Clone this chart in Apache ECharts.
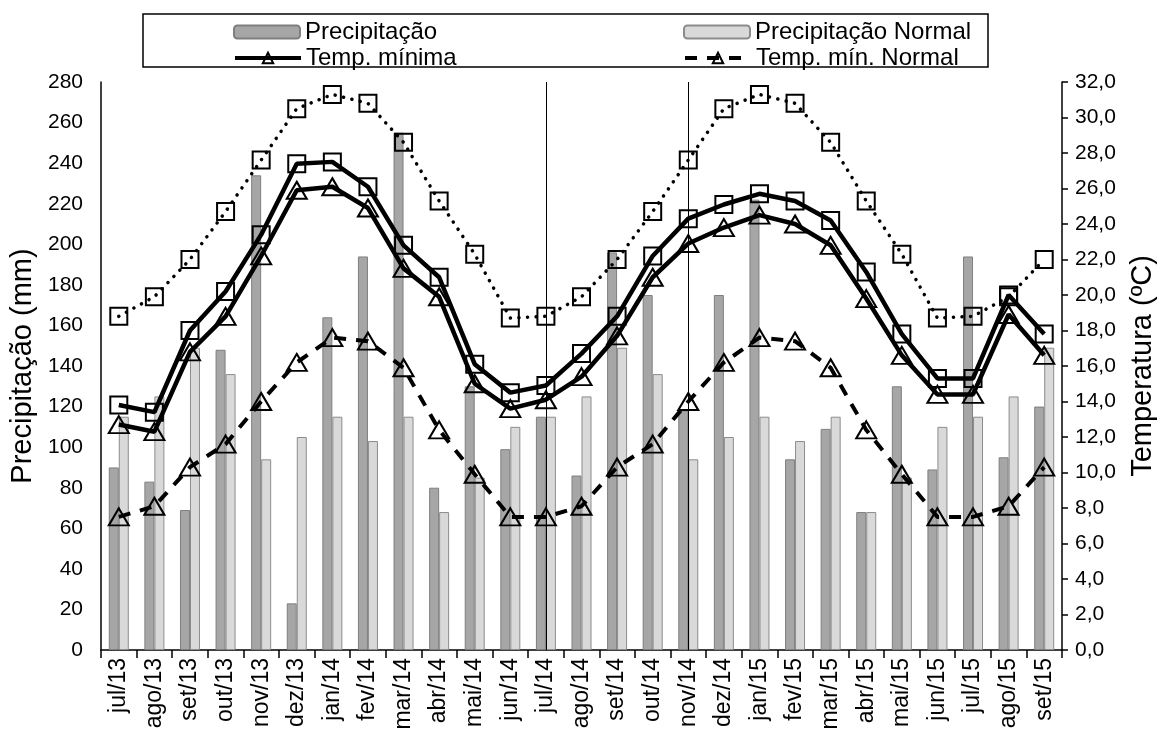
<!DOCTYPE html>
<html>
<head>
<meta charset="utf-8">
<script src="https://cdn.jsdelivr.net/npm/echarts@6/dist/echarts.min.js"></script>
<style>
html,body{margin:0;padding:0;background:#fff;}
#chart{width:1160px;height:731px;}
</style>
</head>
<body>
<div id="chart"></div>
<script>
const categories = ['jul/13','ago/13','set/13','out/13','nov/13','dez/13','jan/14','fev/14','mar/14','abr/14','mai/14','jun/14','jul/14','ago/14','set/14','out/14','nov/14','dez/14','jan/15','fev/15','mar/15','abr/15','mai/15','jun/15','jul/15','ago/15','set/15'];
const precipitacao = [90, 83, 69, 148, 234, 23, 164, 194, 255, 80, 130, 99, 115, 86, 196, 175, 118, 175, 222, 94, 109, 68, 130, 89, 194, 95, 120];
const precipitacaoNormal = [115, 125, 149, 136, 94, 105, 115, 103, 115, 68, 85, 110, 115, 125, 149, 136, 94, 105, 115, 103, 115, 68, 85, 110, 115, 125, 149];
const tempMaxima = [13.8, 13.4, 18.0, 20.2, 23.4, 27.4, 27.5, 26.1, 22.8, 21.0, 16.1, 14.5, 14.9, 16.7, 18.8, 22.2, 24.3, 25.1, 25.7, 25.3, 24.2, 21.3, 17.8, 15.3, 15.3, 20.0, 17.8];
const tempMinima = [12.7, 12.3, 16.8, 18.8, 22.2, 25.9, 26.1, 24.9, 21.5, 19.9, 15.0, 13.6, 14.1, 15.4, 17.7, 21.0, 22.9, 23.8, 24.5, 24.0, 22.8, 19.8, 16.6, 14.4, 14.4, 18.9, 16.6];
const tempMaxNormal = [18.8, 19.9, 22.0, 24.7, 27.6, 30.5, 31.3, 30.8, 28.6, 25.3, 22.3, 18.7, 18.8, 19.9, 22.0, 24.7, 27.6, 30.5, 31.3, 30.8, 28.6, 25.3, 22.3, 18.7, 18.8, 19.9, 22.0];
const tempMinNormal = [7.5, 8.1, 10.3, 11.6, 14.0, 16.2, 17.6, 17.4, 15.9, 12.4, 9.9, 7.5, 7.5, 8.1, 10.3, 11.6, 14.0, 16.2, 17.6, 17.4, 15.9, 12.4, 9.9, 7.5, 7.5, 8.1, 10.3];
const dividers = ['jul/14', 'nov/14'];

const FONT = 'Arial, "Liberation Sans", sans-serif';

const chart = echarts.init(document.getElementById('chart'), null, {renderer: 'canvas'});

const legendBase = {
  orient: 'horizontal',
  itemWidth: 66,
  itemHeight: 13,
  itemGap: 5,
  textStyle: {fontFamily: FONT, fontSize: 24, color: '#000'},
  lineStyle: {width: 4},
  selectedMode: false
};

const markerStyle = {color: 'rgba(0,0,0,0)', borderColor: '#000', borderWidth: 2};

chart.setOption({
  animation: false,
  backgroundColor: '#fff',
  grid: {left: 101, right: 98, top: 82, bottom: 81, containLabel: false, outerBoundsMode: 'none'},
  graphic: [{
    type: 'rect',
    shape: {x: 143, y: 14, width: 845, height: 53},
    style: {fill: 'none', stroke: '#000', lineWidth: 1.5},
    z: 100
  }],
  legend: [
    Object.assign({}, legendBase, {data: ['Precipitação'], left: 228, top: 15}),
    Object.assign({}, legendBase, {data: ['Precipitação Normal'], left: 678, top: 15}),
    Object.assign({}, legendBase, {data: ['Temp. mínima'], left: 228, top: 41}),
    Object.assign({}, legendBase, {data: ['Temp. mín. Normal'], left: 678, top: 41})
  ],
  xAxis: {
    type: 'category',
    data: categories,
    boundaryGap: true,
    axisLine: {lineStyle: {color: '#000', width: 1.5}},
    axisTick: {show: true, length: 8, lineStyle: {color: '#000', width: 1.5}},
    axisLabel: {rotate: 90, interval: 0, margin: 8, fontFamily: FONT, fontSize: 23, color: '#000'},
    splitLine: {show: false}
  },
  yAxis: [{
    type: 'value',
    min: 0, max: 280, interval: 20,
    name: 'Precipitação (mm)',
    nameLocation: 'middle',
    nameGap: 62,
    nameRotate: 90,
    nameTextStyle: {fontFamily: FONT, fontSize: 29, color: '#000'},
    axisLine: {show: true, lineStyle: {color: '#000', width: 1.5}},
    axisTick: {show: false},
    axisLabel: {fontFamily: FONT, fontSize: 21, color: '#000', margin: 18},
    splitLine: {show: false}
  }, {
    type: 'value',
    min: 0, max: 32, interval: 2,
    position: 'right',
    name: 'Temperatura (ºC)',
    nameLocation: 'middle',
    nameGap: 66,
    nameRotate: 90,
    nameTextStyle: {fontFamily: FONT, fontSize: 29, color: '#000'},
    axisLine: {show: true, lineStyle: {color: '#000', width: 1.5}},
    axisTick: {show: true, length: 6, inside: false, lineStyle: {color: '#000', width: 1.5}},
    axisLabel: {fontFamily: FONT, fontSize: 21, color: '#000', margin: 13,
      formatter: v => v.toFixed(1).replace('.', ',')},
    splitLine: {show: false}
  }],
  series: [{
    name: 'Precipitação',
    type: 'bar',
    yAxisIndex: 0,
    data: precipitacao,
    barWidth: 10,
    barGap: '0%',
    itemStyle: {color: '#a6a6a6', borderColor: '#7f7f7f', borderWidth: 1},
    z: 2
  }, {
    name: 'Precipitação Normal',
    type: 'bar',
    yAxisIndex: 0,
    data: precipitacaoNormal,
    barWidth: 10,
    itemStyle: {color: '#d9d9d9', borderColor: '#8c8c8c', borderWidth: 1},
    z: 2
  }, {
    name: 'Temp. máx. Normal',
    type: 'line',
    yAxisIndex: 1,
    data: tempMaxNormal,
    symbol: 'rect',
    symbolSize: 17,
    itemStyle: markerStyle,
    lineStyle: {color: '#000', width: 3.5, type: [0.1, 8.5], cap: 'round'},
    markLine: {
      silent: true,
      symbol: 'none',
      label: {show: false},
      lineStyle: {color: '#000', width: 1, type: 'solid'},
      data: dividers.map(d => ({xAxis: d}))
    },
    z: 5
  }, {
    name: 'Temp. máxima',
    type: 'line',
    yAxisIndex: 1,
    data: tempMaxima,
    symbol: 'rect',
    symbolSize: 17,
    itemStyle: markerStyle,
    lineStyle: {color: '#000', width: 4.5},
    z: 5
  }, {
    name: 'Temp. mínima',
    type: 'line',
    yAxisIndex: 1,
    data: tempMinima,
    symbol: 'triangle',
    symbolSize: [20, 17],
    itemStyle: markerStyle,
    lineStyle: {color: '#000', width: 4.5},
    z: 5
  }, {
    name: 'Temp. mín. Normal',
    type: 'line',
    yAxisIndex: 1,
    data: tempMinNormal,
    symbol: 'triangle',
    symbolSize: [20, 17],
    itemStyle: markerStyle,
    lineStyle: {color: '#000', width: 4, type: [12, 10]},
    z: 5
  }]
});
</script>
</body>
</html>
